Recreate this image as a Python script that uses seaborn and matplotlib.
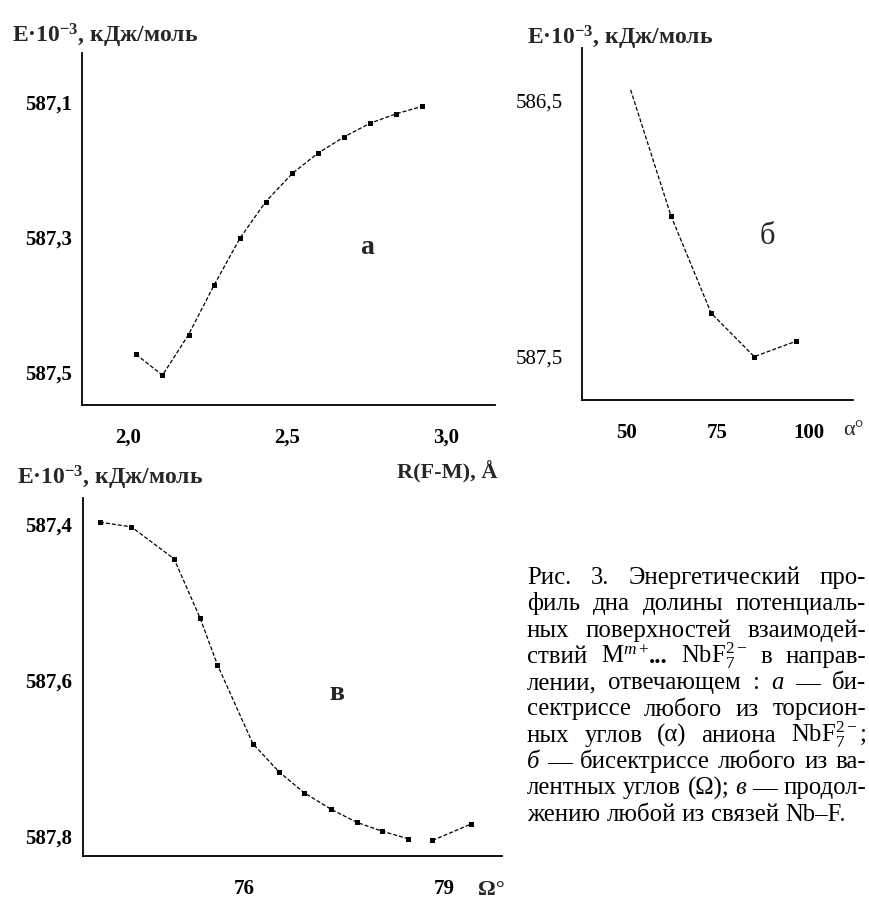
import matplotlib
matplotlib.use("Agg")
import numpy as np
import pandas as pd
import matplotlib.pyplot as plt
import seaborn as sns
from matplotlib.ticker import FuncFormatter

# ---------------- data ----------------
# panel а : E vs R(F-M)
r_fm = [2.025, 2.108, 2.190, 2.270, 2.352, 2.433, 2.517, 2.598, 2.680, 2.761, 2.843, 2.924]
e_a = [587.474, 587.505, 587.445, 587.372, 587.302, 587.248, 587.206, 587.176,
       587.152, 587.132, 587.118, 587.107]
# panel б : E vs alpha
alpha = [51.2, 62.2, 73.2, 85.0, 96.4]
e_b = [586.46, 586.95, 587.33, 587.50, 587.44]
# panel в : E vs Omega (two pieces)
omega = [73.84, 74.31, 74.95, 75.34, 75.60, 76.13, 76.52, 76.90, 77.30, 77.69,
         78.06, 78.46, 78.82, 79.40]
e_c = [587.397, 587.403, 587.444, 587.520, 587.580, 587.681, 587.717, 587.744,
       587.765, 587.782, 587.793, 587.803, 587.805, 587.784]
seg_c = [0] * 12 + [1] * 2

xticks_a = [2.0, 2.5, 3.0]
yticks_a = [587.1, 587.3, 587.5]
xticks_b = [50, 75, 100]
yticks_b = [586.5, 587.5]
xticks_c = [76, 79]
yticks_c = [587.4, 587.6, 587.8]

ylabel_text = "E·10$^{-3}$, кДж/моль"

# ---------------- style ----------------
sns.set_theme(style="white")
plt.rcParams["font.family"] = ["Liberation Serif", "DejaVu Serif"]
plt.rcParams["mathtext.fontset"] = "custom"
plt.rcParams["mathtext.rm"] = "Liberation Serif"
plt.rcParams["mathtext.it"] = "Liberation Serif:italic"
plt.rcParams["mathtext.bf"] = "Liberation Serif:bold"
plt.rcParams["mathtext.default"] = "regular"

W, H = 869, 900
fig = plt.figure(figsize=(W / 100, H / 100), dpi=100)
fig.patch.set_facecolor("white")


def ax_at(l, t, r, b):
    return fig.add_axes([l / W, 1 - b / H, (r - l) / W, (b - t) / H])


ax_a = ax_at(82, 53, 495, 405)
ax_b = ax_at(582, 48, 853, 400)
ax_c = ax_at(83, 498, 502, 856)

line_kw = dict(color="black", lw=0.9, linestyle=(0, (3.2, 1.6)), marker="s",
               markersize=3.6, markeredgewidth=0, estimator=None, sort=False,
               legend=False)

df_a = pd.DataFrame({"x": r_fm, "y": e_a})
sns.lineplot(data=df_a, x="x", y="y", ax=ax_a, **line_kw)

df_b = pd.DataFrame({"x": alpha, "y": e_b})
sns.lineplot(data=df_b, x="x", y="y", ax=ax_b, markevery=list(range(1, len(alpha))), **line_kw)

df_c = pd.DataFrame({"x": omega, "y": e_c, "seg": seg_c})
sns.lineplot(data=df_c, x="x", y="y", units="seg", ax=ax_c, **line_kw)

comma = FuncFormatter(lambda v, p: f"{v:.1f}".replace(".", ","))
intf = FuncFormatter(lambda v, p: f"{v:.0f}")

ax_a.set_xlim(1.855, 3.154)
ax_a.set_ylim(587.549, 587.028)
ax_b.set_xlim(37.9, 112.0)
ax_b.set_ylim(587.669, 586.297)
ax_c.set_xlim(73.586, 79.861)
ax_c.set_ylim(587.825, 587.366)

ax_a.set_xticks(xticks_a)
ax_a.set_yticks(yticks_a)
ax_a.xaxis.set_major_formatter(comma)
ax_a.yaxis.set_major_formatter(comma)
ax_b.set_xticks(xticks_b)
ax_b.set_yticks(yticks_b)
ax_b.xaxis.set_major_formatter(intf)
ax_b.yaxis.set_major_formatter(comma)
ax_c.set_xticks(xticks_c)
ax_c.set_yticks(yticks_c)
ax_c.xaxis.set_major_formatter(intf)
ax_c.yaxis.set_major_formatter(comma)

ypads = {ax_a: 1.5, ax_b: 8, ax_c: 2.5}
for ax in (ax_a, ax_b, ax_c):
    ax.set_xlabel("")
    ax.set_ylabel("")
    ax.set_facecolor("white")
    sns.despine(ax=ax)
    for s in ("left", "bottom"):
        ax.spines[s].set_color("black")
        ax.spines[s].set_linewidth(1.3)
    ax.tick_params(axis="both", direction="inout", length=11, width=1.2,
                   colors="black", labelsize=15)
    ax.tick_params(axis="x", pad=11)
    ax.tick_params(axis="y", pad=ypads[ax])
    for lbl in ax.get_xticklabels() + ax.get_yticklabels():
        lbl.set_fontweight("bold")
for lbl in ax_b.get_yticklabels():
    lbl.set_fontweight("normal")
ax_a.xaxis.get_major_ticks()[0].tick1line.set_visible(False)


def ftext(x, y, s, **kw):
    return fig.text(x / W, 1 - y / H, s, **kw)


# y-axis titles
for (x, y) in [(12, 42), (527, 45), (17, 485)]:
    ftext(x, y, ylabel_text, fontsize=17, weight="bold", ha="left", va="baseline")

# panel letters
ftext(367, 248, "а", fontsize=20, weight="bold", ha="center", va="center")
ftext(767, 237, "б", fontsize=22, ha="center", va="center")
ftext(337, 693, "в", fontsize=20, weight="bold", ha="center", va="center")

# x-axis titles
ftext(497, 472, "R(F-M), Å", fontsize=16, weight="bold", ha="right", va="center")
ftext(843, 430, "α°", fontsize=16, ha="left", va="center")
ftext(478, 890, "Ω°", fontsize=16, weight="bold", ha="left", va="center")

# ---------------- caption (justified) ----------------
N = {}
I = {"style": "italic"}
B = {"weight": "bold"}
caption_lines = [
    ["Рис.", "3.", "Энергетический", "про-"],
    ["филь", "дна", "долины", "потенциаль-"],
    ["ных", "поверхностей", "взаимодей-"],
    ["ствий", [("M$^{\\mathit{m}+}$", N), ("...", B)], "NbF$_7^{2-}$", "в", "направ-"],
    ["лении,", "отвечающем", ":", [("а", I)], "—", "би-"],
    ["сектриссе", "любого", "из", "торсион-"],
    ["ных", "углов", "(α)", "аниона", "NbF$_7^{2-}$;"],
    [[("б", I)], "—", "бисектриссе", "любого", "из", "ва-"],
    ["лентных", "углов", "(Ω);", [("в", I)], "—", "продол-"],
    ["жению", "любой", "из", "связей", "Nb–F."],
]
X0, X1 = 527, 866
CAP_FS = 17.8
renderer = fig.canvas.get_renderer()
for i, words in enumerate(caption_lines):
    yb = 584 + 26.3 * i
    objs = []
    for word in words:
        if isinstance(word, str):
            word = [(word, N)]
        segs = []
        for s, st in word:
            t = ftext(0, yb, s, fontsize=CAP_FS, family="Liberation Serif",
                      ha="left", va="baseline", color="black", **st)
            w = t.get_window_extent(renderer).width
            segs.append((t, w))
        objs.append(segs)
    widths = [sum(w for _, w in segs) for segs in objs]
    last = i == len(caption_lines) - 1
    natural = CAP_FS * 100 / 72 * 0.25
    if last or len(objs) < 2:
        gap = natural
    else:
        gap = max(3.5, (X1 - X0 - sum(widths)) / (len(objs) - 1))
    x = X0
    for segs in objs:
        for t, w in segs:
            t.set_x(x / W)
            x += w
        x += gap

fig.savefig("out.png", dpi=100, facecolor="white")
